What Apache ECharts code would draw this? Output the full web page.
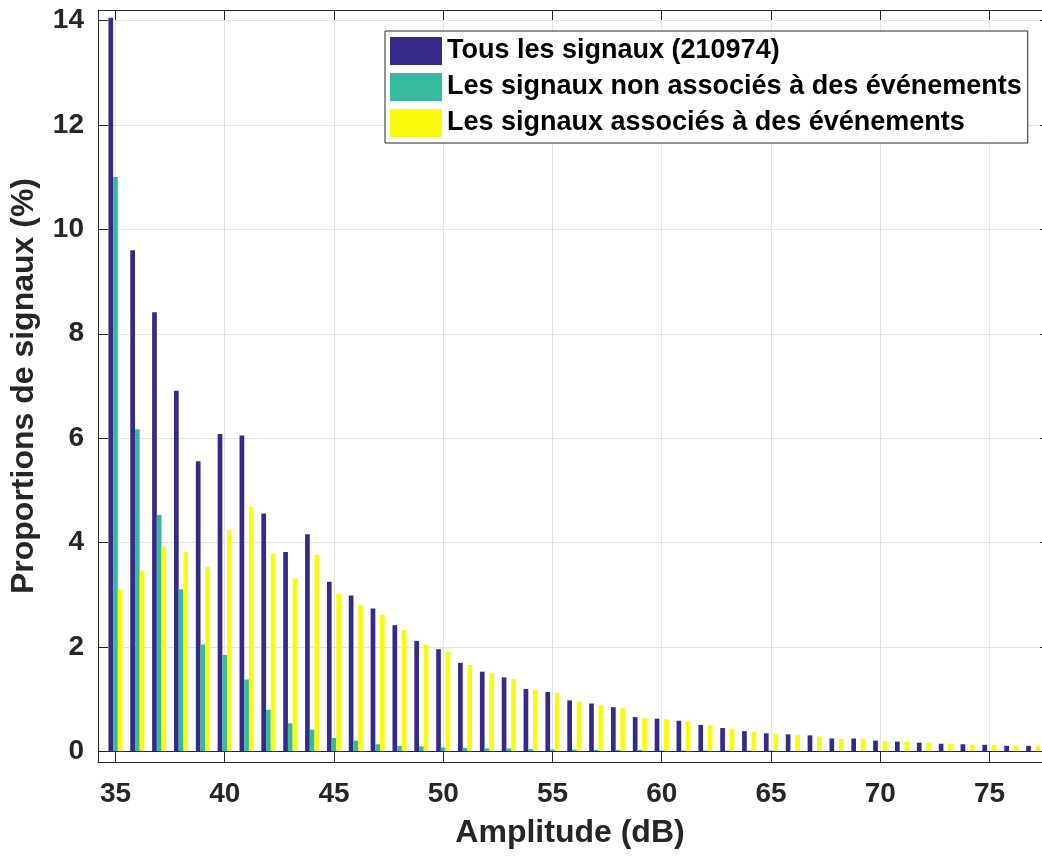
<!DOCTYPE html>
<html>
<head>
<meta charset="utf-8">
<script src="https://cdn.jsdelivr.net/npm/echarts@6/dist/echarts.min.js"></script>
<style>
  html, body { margin: 0; padding: 0; background: #fff; overflow: hidden; }
  /* the plot box runs slightly past the right edge of the window, as in the original figure */
  #chart { width: 1050px; height: 856px; }
</style>
</head>
<body>
<div id="chart"></div>
<script>
// amplitude bins (dB)
var amplitudes = [35, 36, 37, 38, 39, 40, 41, 42, 43, 44, 45, 46, 47, 48, 49, 50, 51, 52, 53, 54, 55,
  56, 57, 58, 59, 60, 61, 62, 63, 64, 65, 66, 67, 68, 69, 70, 71, 72, 73, 74, 75, 76, 77];

// proportions (%)
var tous = [14.05, 9.60, 8.41, 6.91, 5.56, 6.08, 6.05, 4.56, 3.82, 4.16, 3.25, 2.99, 2.74, 2.42, 2.12,
  1.96, 1.70, 1.53, 1.42, 1.20, 1.14, 0.98, 0.92, 0.85, 0.66, 0.63, 0.59, 0.51, 0.45, 0.39, 0.35,
  0.33, 0.31, 0.25, 0.25, 0.21, 0.19, 0.17, 0.15, 0.14, 0.13, 0.11, 0.11];
var nonAssocies = [11.0, 6.17, 4.53, 3.11, 2.05, 1.85, 1.38, 0.80, 0.54, 0.42, 0.26, 0.21, 0.14, 0.11,
  0.10, 0.08, 0.07, 0.06, 0.06, 0.05, 0.04, 0.04, 0.03, 0.03, 0.03, 0.02, 0.02, 0.02, 0.02, 0.02,
  0.02, 0.01, 0.01, 0.01, 0.01, 0.01, 0.01, 0.01, 0.01, 0.01, 0.01, 0.01, 0.01];
var associes = [3.10, 3.46, 3.92, 3.82, 3.54, 4.24, 4.69, 3.79, 3.32, 3.77, 3.02, 2.81, 2.62, 2.32,
  2.05, 1.91, 1.66, 1.50, 1.39, 1.18, 1.12, 0.96, 0.89, 0.83, 0.64, 0.62, 0.57, 0.50, 0.44, 0.38,
  0.34, 0.32, 0.29, 0.24, 0.24, 0.20, 0.19, 0.17, 0.15, 0.13, 0.13, 0.11, 0.11];

var seriesNames = ['Tous les signaux (210974)', 'Les signaux non associés à des événements',
  'Les signaux associés à des événements'];
var xTicks = [35, 40, 45, 50, 55, 60, 65, 70, 75];
var yTicks = [0, 2, 4, 6, 8, 10, 12, 14];

var FONT = "'Liberation Sans', Arial, Helvetica, sans-serif";
var INK = '#262626';
var X_MIN = 34.2, X_MAX = 77.77;
var Y_MIN = -0.2, Y_MAX = 14.2;

function pairs(vals) {
  return amplitudes.map(function (a, i) { return [a, vals[i]]; });
}

var chart = echarts.init(document.getElementById('chart'), null, { renderer: 'canvas' });

var tickStyle = { show: true, inside: true, length: 10, lineStyle: { color: INK, width: 1 } };
var boxLine = { show: true, onZero: false, lineStyle: { color: INK, width: 1 } };

var option = {
  animation: false,
  textStyle: { fontFamily: FONT },
  grid: { left: 98, right: 0, top: 10, bottom: 94 },
  legend: {
    orient: 'vertical',
    left: 385,
    top: 31,
    data: seriesNames,
    icon: 'rect',
    itemWidth: 52,
    itemHeight: 28,
    itemGap: 8,
    padding: [6, 6, 6, 5],
    backgroundColor: '#fff',
    borderColor: INK,
    borderWidth: 1,
    textStyle: { fontFamily: FONT, fontWeight: 'bold', fontSize: 27, color: '#000' }
  },
  xAxis: [{
    type: 'value',
    min: X_MIN,
    max: X_MAX,
    position: 'bottom',
    name: 'Amplitude (dB)',
    nameLocation: 'middle',
    nameGap: 55,
    nameTextStyle: { fontFamily: FONT, fontWeight: 'bold', fontSize: 32, color: INK, padding: [0, 8, 0, 0] },
    axisLine: boxLine,
    axisTick: Object.assign({ customValues: xTicks }, tickStyle),
    axisLabel: { customValues: xTicks, margin: 18, fontFamily: FONT, fontWeight: 'bold', fontSize: 28, color: INK },
    splitLine: { show: true, lineStyle: { color: '#e3e3e3', width: 1 } }
  }, {
    type: 'value',
    min: X_MIN,
    max: X_MAX,
    position: 'top',
    axisLine: boxLine,
    axisTick: Object.assign({ customValues: xTicks }, tickStyle),
    axisLabel: { show: false },
    splitLine: { show: false }
  }],
  yAxis: [{
    type: 'value',
    min: Y_MIN,
    max: Y_MAX,
    position: 'left',
    name: 'Proportions de signaux (%)',
    nameLocation: 'middle',
    nameGap: 58,
    nameTextStyle: { fontFamily: FONT, fontWeight: 'bold', fontSize: 32, color: INK },
    axisLine: boxLine,
    axisTick: Object.assign({ customValues: yTicks }, tickStyle),
    axisLabel: { customValues: yTicks, margin: 14, fontFamily: FONT, fontWeight: 'bold', fontSize: 28, color: INK },
    splitLine: { show: true, lineStyle: { color: '#e3e3e3', width: 1 } }
  }, {
    type: 'value',
    min: Y_MIN,
    max: Y_MAX,
    position: 'right',
    axisLine: boxLine,
    axisTick: Object.assign({ customValues: yTicks }, tickStyle),
    axisLabel: { show: false },
    splitLine: { show: false }
  }],
  series: [{
    name: seriesNames[0],
    type: 'bar',
    data: pairs(tous),
    barWidth: 4.7,
    barGap: '0%',
    itemStyle: { color: '#352a87' },
    // bar baseline at y = 0
    markLine: {
      silent: true,
      symbol: 'none',
      label: { show: false },
      lineStyle: { color: INK, width: 1, type: 'solid' },
      data: [{ yAxis: 0 }]
    }
  }, {
    name: seriesNames[1],
    type: 'bar',
    data: pairs(nonAssocies),
    barWidth: 4.7,
    barGap: '0%',
    itemStyle: { color: '#36b99d' }
  }, {
    name: seriesNames[2],
    type: 'bar',
    data: pairs(associes),
    barWidth: 4.7,
    barGap: '0%',
    itemStyle: { color: '#f9fb0e' }
  }]
};

chart.setOption(option);
</script>
</body>
</html>
